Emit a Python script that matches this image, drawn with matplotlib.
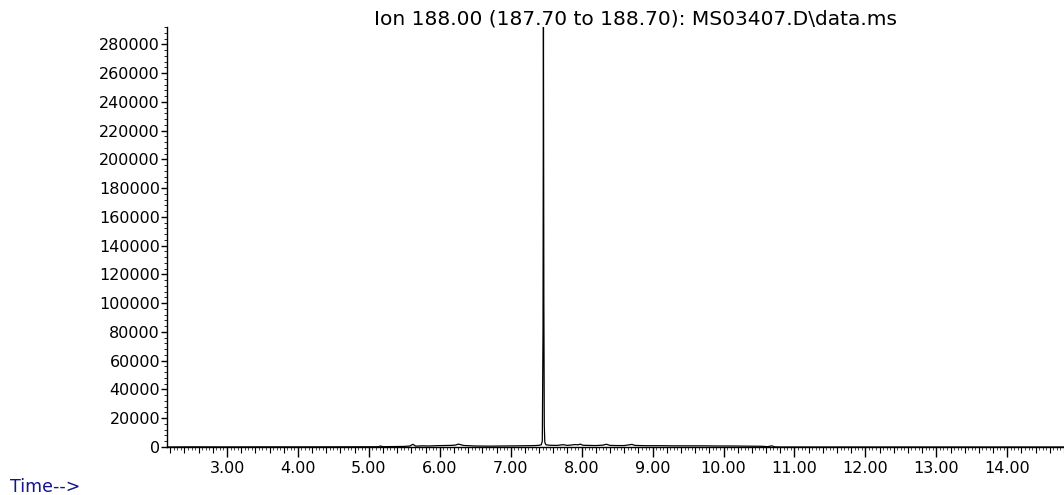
import matplotlib
matplotlib.use("Agg")
import matplotlib.pyplot as plt
from matplotlib.ticker import MultipleLocator, FormatStrFormatter

plt.rcParams['font.family'] = ['DejaVu Sans']

title_text = "Ion 188.00 (187.70 to 188.70): MS03407.D\\data.ms"
xlabel_text = "Time-->"

time_min = [2.16, 2.5, 3.0, 3.5, 4.0, 4.5, 5.0, 5.14, 5.16, 5.2, 5.5, 5.58, 5.62, 5.66,
            5.75, 5.85, 5.95, 6.05, 6.15, 6.22, 6.26, 6.29, 6.33, 6.4, 6.5, 6.7, 6.9,
            7.1, 7.25, 7.35, 7.40, 7.43, 7.445, 7.455, 7.461, 7.467, 7.473, 7.48, 7.49,
            7.5, 7.55, 7.65, 7.74, 7.8, 7.91, 7.95, 7.98, 8.02, 8.1, 8.2, 8.3, 8.35,
            8.4, 8.5, 8.6, 8.71, 8.75, 8.9, 9.1, 9.3, 9.5, 9.7, 9.9, 10.1, 10.3, 10.54,
            10.62, 10.68, 10.72, 10.8, 14.8]
abundance = [0, 100, 50, 100, 80, 120, 150, 200, 700, 200, 400, 700, 1900, 600,
             800, 700, 900, 1000, 1100, 1300, 2000, 1700, 1100, 900, 700, 600, 700,
             800, 900, 1000, 1200, 1500, 4000, 80000, 300000, 100000, 15000, 3500, 2000,
             1500, 1200, 1100, 1600, 1100, 1700, 1500, 2000, 1200, 1100, 1000, 1300, 1900,
             1100, 1000, 1000, 1800, 1100, 900, 900, 800, 800, 800, 700, 700, 600, 500,
             200, 800, 100, 0, 0]

fig = plt.figure(figsize=(10.64, 4.95), dpi=100)
ax = fig.add_axes([167/1064, 1 - 447/495, 1 - 167/1064, (447 - 27)/495])
ax.plot(time_min, abundance, color='black', lw=0.9)

ax.set_xlim(2.154, 14.80)
ax.set_ylim(0, 292000)

for s in ['top', 'right']:
    ax.spines[s].set_visible(False)
for s in ['left', 'bottom']:
    ax.spines[s].set_linewidth(1.0)

ax.xaxis.set_major_locator(MultipleLocator(1.0))
ax.xaxis.set_minor_locator(MultipleLocator(0.2))
ax.xaxis.set_major_formatter(FormatStrFormatter('%.2f'))
ax.yaxis.set_major_locator(MultipleLocator(20000))
ax.yaxis.set_minor_locator(MultipleLocator(4000))
ax.yaxis.set_major_formatter(FormatStrFormatter('%d'))

ax.tick_params(axis='x', which='major', length=7, width=1, pad=3, labelsize=11.5)
ax.tick_params(axis='x', which='minor', length=4, width=0.8)
ax.tick_params(axis='y', which='major', length=4, width=1, pad=1, labelsize=11.5)
ax.tick_params(axis='y', which='minor', length=2, width=0.6)

sec = ax.secondary_xaxis('bottom')
sec.xaxis.set_major_locator(MultipleLocator(0.05))
sec.tick_params(axis='x', which='major', length=2, width=0.5, labelbottom=False)
sec.spines['bottom'].set_visible(False)

fig.text(636/1064, 1 - 19/495, title_text, ha='center', va='center', fontsize=14.5)
fig.text(10/1064, 1 - 487/495, xlabel_text, ha='left', va='center', fontsize=12.5,
         color='#14148c')

fig.savefig('out.png', dpi=100)
